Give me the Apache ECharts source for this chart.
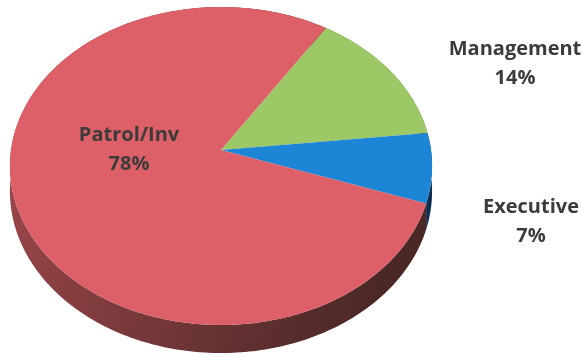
<!DOCTYPE html>
<html>
<head>
<meta charset="utf-8">
<script src="https://cdn.jsdelivr.net/npm/echarts@6/dist/echarts.min.js"></script>
<style>
  html, body { margin: 0; padding: 0; background: #ffffff; }
  #chart { width: 583px; height: 357px; }
</style>
</head>
<body>
<div id="chart"></div>
<script>
// Staff distribution by role (percent)
const categories = ['Management', 'Executive', 'Patrol/Inv'];
const shares = [14, 7, 78];

// Face and rim colours per slice
const topColors = ['#9cc866', '#1d85d6', '#dd5f68'];
const rimColors = [
  ['#6d8f45', '#4a6130'],
  ['#1a5a94', '#0f2f50'],
  ['#a5494e', '#4a2826']
];

// Tilted disc: perspective projection of a flat cylinder
const disc = { cx: 221, cy: 150, R: 210, q: 157.4, p: 0.1007, depth: 25.2, startDeg: 32.8 };

// Label placement (pixel anchors, block centre)
const labelAnchors = [[515, 64], [531, 222], [129, 150]];

const total = shares.reduce((s, v) => s + v, 0);
const spans = [];
{
  let acc = 0;
  shares.forEach(v => {
    const a0 = disc.startDeg + 360 * acc / total;
    acc += v;
    spans.push([a0, disc.startDeg + 360 * acc / total]);
  });
}

// t: degrees clockwise from 12 o'clock; z: 0 = top face, 1 = bottom face
function project(t, z) {
  const a = t * Math.PI / 180;
  const x = Math.sin(a), v = -Math.cos(a);
  const w = 1 - disc.p * v;
  return [disc.cx + disc.R * x / w, disc.cy + (disc.q * v + disc.depth * z) / w];
}

function arc(a0, a1, z) {
  const n = Math.max(12, Math.ceil(Math.abs(a1 - a0) / 1));
  const pts = [];
  for (let k = 0; k <= n; k++) pts.push(project(a0 + (a1 - a0) * k / n, z));
  return pts;
}

const seriesData = categories.map((name, i) => ({ name, value: shares[i] }));

const chart = echarts.init(document.getElementById('chart'), null, { renderer: 'canvas' });
chart.setOption({
  animation: false,
  backgroundColor: '#ffffff',
  series: [
    {
      // rim of the disc
      type: 'custom',
      coordinateSystem: 'none',
      z: 1,
      data: seriesData,
      renderItem: function (params, api) {
        const i = params.dataIndex;
        const [a0, a1] = spans[i];
        const pts = arc(a0, a1, 0).concat(arc(a1, a0, 1));
        return {
          type: 'polygon',
          shape: { points: pts },
          style: {
            fill: new echarts.graphic.LinearGradient(0, 0, 1, 0.4, [
              { offset: 0, color: rimColors[i][0] },
              { offset: 1, color: rimColors[i][1] }
            ])
          }
        };
      }
    },
    {
      // top faces with labels
      type: 'custom',
      coordinateSystem: 'none',
      z: 2,
      data: seriesData,
      renderItem: function (params, api) {
        const i = params.dataIndex;
        const [a0, a1] = spans[i];
        const pts = [[disc.cx, disc.cy]].concat(arc(a0, a1, 0));
        const anchor = labelAnchors[i];
        return {
          type: 'group',
          children: [
            {
              type: 'polygon',
              shape: { points: pts },
              style: { fill: topColors[i] }
            },
            {
              type: 'text',
              z2: 10,
              x: anchor[0],
              y: anchor[1],
              style: {
                text: categories[i] + '\n' + api.value(0) + '%',
                fontFamily: 'Open Sans',
                fontWeight: 'bold',
                fontSize: 20,
                lineHeight: 29,
                fill: '#3b3b3b',
                align: 'center',
                verticalAlign: 'middle'
              }
            }
          ]
        };
      }
    }
  ]
});
</script>
</body>
</html>
